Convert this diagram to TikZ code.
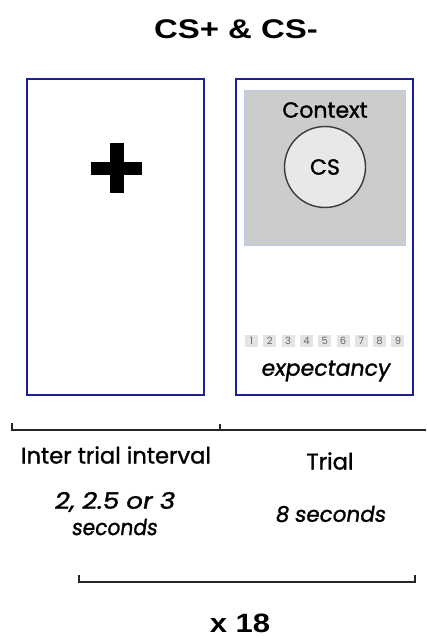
\documentclass[tikz,border=0pt]{standalone}
\usepackage{fontspec}
\setmainfont{Poppins}[FakeBold=1.3]
\newfontfamily\popit{Poppins}[FakeSlant=0.15,FakeBold=1.3]
\newfontfamily\popnum{Poppins}
\newfontfamily\arialb{Liberation Sans}[BoldFont={Liberation Sans Bold}]
\definecolor{boxblue}{HTML}{1F1F9E}
\definecolor{ctxgray}{HTML}{CCCCCC}
\definecolor{ctxedge}{HTML}{B8C8E8}
\definecolor{csfill}{HTML}{E8E8E8}
\definecolor{csedge}{HTML}{3A3A3A}
\definecolor{numfill}{HTML}{E4E4E4}
\definecolor{numtext}{HTML}{666666}
\tikzset{
  screen/.style={draw=boxblue, line width=2pt, minimum width=177pt, minimum height=316pt, inner sep=0pt},
  ctxbox/.style={fill=ctxgray, draw=ctxedge, line width=1pt, minimum width=161pt, minimum height=154pt, inner sep=0pt},
  csdisc/.style={circle, fill=csfill, draw=csedge, line width=1.4pt, minimum size=81pt, inner sep=0pt},
  numbox/.style={fill=numfill, minimum width=13pt, minimum height=12pt, inner sep=0pt, text=numtext, font=\popnum\fontsize{10}{10}\selectfont},
  bracket/.style={draw=black!85, line width=1.5pt},
  lbl/.style={inner sep=0pt, font=\fontsize{22.6}{24}\selectfont},
  lblit/.style={inner sep=0pt, font=\popit\fontsize{20}{22}\selectfont},
  bigbold/.style={inner sep=0pt, font=\arialb\bfseries\fontsize{27}{30}\selectfont}
}
\begin{document}
\begin{tikzpicture}[x=1pt,y=-1pt]
\useasboundingbox (0,0) rectangle (426,639);
% title
\node[bigbold, xscale=1.22] (title) at (236,29) {CS+ \& CS-};
% screens
\node[screen] (iti) at (115.5,237) {};
\node[screen] (trial) at (324.5,237) {};
% fixation cross
\fill (91,162) rectangle (142,175);
\fill (110,143) rectangle (124,193);
% context
\node[ctxbox] (ctx) at (324.5,168) {};
\node[inner sep=0pt, font=\fontsize{22}{24}\selectfont] (ctxt) at (325,110) {Context};
\node[csdisc] (cs) at (325,167) {};
\node[inner sep=0pt, font=\fontsize{22}{24}\selectfont] (cst) at (325,167) {CS};
% rating scale
\foreach \i in {1,...,9} {
  \node[numbox] (n\i) at ({245+6.5+(\i-1)*18.3},341) {\i};
}
\node[inner sep=0pt, font=\popit\fontsize{22}{24}\selectfont] (exp) at (325,371) {expectancy};
% top bracket
\coordinate (tbL) at (12,423);
\coordinate (tbLc) at (12,430);
\coordinate (tbR) at (426,430);
\coordinate (tbM) at (220,424);
\coordinate (tbMc) at (220,430);
\draw[bracket] (tbL) -- (tbLc) -- (tbR);
\draw[bracket] (tbM) -- (tbMc);
% labels
\node[lbl] (itil) at (116,455) {Inter trial interval};
\node[lbl] (triall) at (330,461) {Trial};
\node[lblit, font=\popit\fontsize{22.6}{24}\selectfont, xscale=1.16] (itid) at (114,502) {2, 2.5 or 3};
\node[lblit, font=\popit\fontsize{22}{24}\selectfont, xscale=0.92] (itis) at (114,527) {seconds};
\node[lblit, font=\popit\fontsize{21.5}{24}\selectfont] (triald) at (330,514) {8 seconds};
% repeat bracket
\coordinate (rbL) at (79,575);
\coordinate (rbLc) at (79,582);
\coordinate (rbRc) at (415,582);
\coordinate (rbR) at (415,575);
\draw[bracket] (rbL) -- (rbLc) -- (rbRc) -- (rbR);
\node[bigbold, font=\arialb\bfseries\fontsize{26.5}{28}\selectfont, xscale=1.17] (rep) at (240,623) {x 18};
\end{tikzpicture}
\end{document}
